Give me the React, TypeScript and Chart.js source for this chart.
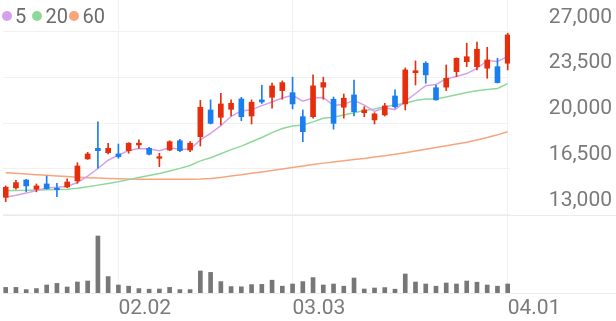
import React, { useEffect, useRef } from 'react';
import { Chart, registerables } from 'chart.js';

Chart.register(...registerables);

// ---------------- data (50 trading days) ----------------
const X_TICK_INDEX = [11, 28, 49];
const X_TICK_LABELS = ['02.02', '03.03', '04.01'];
const PRICE_TICKS = [13000, 16500, 20000, 23500, 27000];

const OPEN = [14330, 15050, 15650, 14950, 15350, 15020, 15120, 15580, 17260, 18070,
  17740, 17640, 17890, 18330, 18070, 17310, 17940, 18650, 17940, 18960,
  21000, 20440, 21050, 21840, 20540, 21770, 21970, 22480, 22320, 20490,
  20490, 22740, 21820, 21210, 22150, 20790, 20240, 20620, 22070, 21460,
  23850, 24570, 22700, 22740, 23930, 24690, 24310, 24190, 24310, 24570];
const HIGH = [15200, 15630, 15700, 15350, 15950, 15400, 15750, 16970, 17770, 20100,
  18450, 18400, 18500, 18710, 18150, 17690, 18650, 18760, 18580, 21730,
  21770, 22280, 21770, 21970, 21770, 22890, 23060, 23220, 23500, 21000,
  23680, 23500, 21990, 22220, 23290, 21250, 20790, 21510, 22530, 24210,
  24750, 24690, 22910, 24440, 24980, 26100, 26180, 25790, 24950, 26860];
const LOW = [14000, 14950, 14750, 14750, 14950, 14380, 15060, 15400, 17230, 16550,
  17640, 17310, 17690, 18070, 17560, 16670, 17890, 17810, 17810, 18250,
  19930, 19850, 20540, 20180, 19930, 21500, 21130, 21820, 21080, 18580,
  20370, 21820, 19530, 20370, 20540, 20490, 19930, 20540, 21130, 21000,
  22910, 23040, 21740, 22480, 23550, 24310, 24060, 23420, 23060, 24060];
const CLOSE = [15100, 15450, 15200, 15200, 14990, 14910, 15500, 16720, 17640, 17890,
  18070, 17430, 18460, 18460, 17620, 17430, 18580, 17890, 18460, 21210,
  19980, 21460, 21510, 20490, 21590, 21610, 22840, 23090, 21460, 19340,
  22840, 23090, 19980, 21900, 20870, 21000, 20700, 21310, 21250, 24060,
  24000, 23680, 21770, 23420, 24950, 25070, 25640, 24820, 23090, 26730];
const VOLUME = [140, 140, 85, 110, 200, 240, 150, 275, 300, 1425,
  410, 200, 170, 110, 95, 100, 140, 85, 85, 550,
  515, 285, 160, 155, 210, 215, 320, 170, 225, 285,
  385, 200, 225, 170, 375, 100, 125, 135, 95, 475,
  275, 225, 170, 250, 225, 300, 270, 200, 170, 225];
const MA5 = [14330, 14480, 14650, 14850, 15050, 15100, 15160, 15460, 15950, 16530,
  17160, 17550, 17900, 18060, 18010, 17880, 18110, 18000, 18000, 18710,
  19220, 19800, 20520, 20930, 21010, 21330, 21610, 21920, 22120, 21670,
  21910, 21960, 21340, 21430, 21740, 21370, 20890, 21160, 21030, 21660,
  22260, 22860, 22950, 23390, 23560, 23780, 24170, 24780, 24710, 25070];
const MA20 = [14830, 14850, 14860, 14890, 14900, 14920, 14940, 15020, 15130, 15260,
  15390, 15510, 15680, 15840, 15990, 16150, 16340, 16540, 16760, 17110,
  17350, 17660, 17970, 18240, 18570, 18900, 19270, 19590, 19780, 19850,
  20090, 20370, 20450, 20620, 20780, 20960, 21070, 21240, 21380, 21520,
  21720, 21830, 21840, 21990, 22160, 22330, 22470, 22560, 22640, 23010];
const MA60 = [16210, 16160, 16110, 16060, 16010, 15960, 15910, 15870, 15830, 15800,
  15770, 15740, 15720, 15710, 15700, 15700, 15700, 15700, 15710, 15730,
  15770, 15850, 15950, 16060, 16170, 16270, 16380, 16500, 16610, 16720,
  16830, 16940, 17030, 17120, 17210, 17300, 17400, 17500, 17620, 17740,
  17870, 18000, 18130, 18260, 18400, 18540, 18710, 18890, 19100, 19340];
const MA_LABELS = ['5', '20', '60'];

// ---------------- styles ----------------
const UP = '#e62e0d';
const DOWN = '#1a7ef1';
const MA_COLORS = ['#d69ff0', '#8ed89c', '#f8a47d'];
const VOL_COLOR = '#777777';
const TEXT = '#7a7a7a';
const GRID = '#f1f1f1';
const FONT = { family: 'Roboto', size: 21 };

const X_MIN = -0.2635;
const X_MAX = 49.2245;
const Y_MIN = 7020;
const Y_MAX = 29400;
const VOL_MAX = 7325;

export default function App() {
  const ref = useRef<HTMLCanvasElement>(null);

  useEffect(() => {
    const canvas = ref.current;
    if (!canvas) return;
    const idx = CLOSE.map((_, i) => i);
    const colors = idx.map((i) => (CLOSE[i] >= OPEN[i] ? UP : DOWN));

    const sepLines = {
      id: 'sepLines',
      beforeDatasetsDraw(chart: any) {
        const { ctx, chartArea, scales } = chart;
        const yA = Math.round(scales.y.getPixelForValue(PRICE_TICKS[0])) + 0.5;
        const yB = Math.round(chartArea.bottom) + 0.5;
        ctx.save();
        ctx.lineWidth = 1;
        ctx.strokeStyle = '#ebebeb';
        ctx.beginPath();
        ctx.moveTo(chartArea.left, yA);
        ctx.lineTo(chart.width, yA);
        ctx.moveTo(chartArea.left, yB);
        ctx.lineTo(chart.width, yB);
        ctx.stroke();
        ctx.restore();
      },
    };

    const maSets = [MA5, MA20, MA60].map((arr, k) => ({
      type: 'line' as const,
      label: 'MA' + MA_LABELS[k],
      data: idx.map((i) => ({ x: i, y: arr[i] })),
      borderColor: MA_COLORS[k],
      borderWidth: 1.5,
      pointRadius: 0,
      tension: 0,
      yAxisID: 'y',
      order: 2 + k,
    }));

    const chart = new Chart(canvas, {
      type: 'bar',
      data: {
        datasets: [
          {
            type: 'bar',
            label: 'body',
            data: idx.map((i) => ({ x: i, y: [OPEN[i], CLOSE[i]] })) as any,
            backgroundColor: colors,
            barThickness: 5,
            grouped: false,
            minBarLength: 1.5,
            yAxisID: 'y',
            order: 0,
          },
          {
            type: 'bar',
            label: 'wick',
            data: idx.map((i) => ({ x: i, y: [LOW[i], HIGH[i]] })) as any,
            backgroundColor: colors,
            barThickness: 1,
            grouped: false,
            yAxisID: 'y',
            order: 1,
          },
          ...(maSets as any[]),
          {
            type: 'bar',
            label: 'volume',
            data: idx.map((i) => ({ x: i, y: VOLUME[i] })) as any,
            backgroundColor: VOL_COLOR,
            barThickness: 4,
            grouped: false,
            yAxisID: 'vol',
            order: 6,
          },
        ] as any,
      },
      options: {
        responsive: false,
        animation: false,
        layout: { padding: { left: 3, right: 4, top: 0, bottom: 0 } },
        plugins: { legend: { display: false }, tooltip: { enabled: false } },
        scales: {
          x: {
            type: 'linear',
            offset: false,
            min: X_MIN,
            max: X_MAX,
            afterBuildTicks: (s: any) => {
              s.ticks = X_TICK_INDEX.map((v) => ({ value: v }));
            },
            afterFit: (s: any) => {
              s.height = 28;
              s.paddingLeft = 0;
              s.paddingRight = 0;
            },
            grid: { color: GRID, drawTicks: false, offset: false },
            border: { display: false },
            ticks: {
              callback: (_v: any, i: number) => X_TICK_LABELS[i],
              align: 'start',
              padding: 3,
              maxRotation: 0,
              autoSkip: false,
              color: TEXT,
              font: FONT,
            },
          },
          y: {
            type: 'linear',
            position: 'right',
            min: Y_MIN,
            max: Y_MAX,
            afterBuildTicks: (s: any) => {
              s.ticks = PRICE_TICKS.map((v) => ({ value: v }));
            },
            afterFit: (s: any) => {
              s.width = 102;
              s.paddingTop = 0;
              s.paddingBottom = 0;
            },
            grid: { color: GRID, drawTicks: false },
            border: { display: false },
            ticks: {
              callback: (v: any) => Number(v).toLocaleString('en-US'),
              crossAlign: 'far',
              padding: 39,
              labelOffset: -14,
              autoSkip: false,
              color: TEXT,
              font: FONT,
            },
          },
          vol: { type: 'linear', display: false, min: 0, max: VOL_MAX },
        } as any,
      },
      plugins: [sepLines],
    });
    return () => chart.destroy();
  }, []);

  const dot = (left: number, color: string) => (
    <span
      style={{
        position: 'absolute', left, top: 11, width: 10, height: 10,
        borderRadius: '50%', background: color,
      }}
    />
  );
  const txt = (left: number, s: string) => (
    <span
      style={{
        position: 'absolute', left, top: 6, lineHeight: '20px', fontSize: 20,
        fontFamily: 'Roboto', color: '#6b6b6b', whiteSpace: 'nowrap',
      }}
    >
      {s}
    </span>
  );

  return (
    <div style={{ position: 'fixed', left: 0, top: 0, width: 616, height: 321, background: '#fff' }}>
      <canvas ref={ref} width={616} height={321} style={{ display: 'block', width: 616, height: 321 }} />
      {dot(2, MA_COLORS[0])}
      {txt(15, MA_LABELS[0])}
      {dot(32, MA_COLORS[1])}
      {txt(45.5, MA_LABELS[1])}
      {dot(69, MA_COLORS[2])}
      {txt(82.5, MA_LABELS[2])}
    </div>
  );
}
